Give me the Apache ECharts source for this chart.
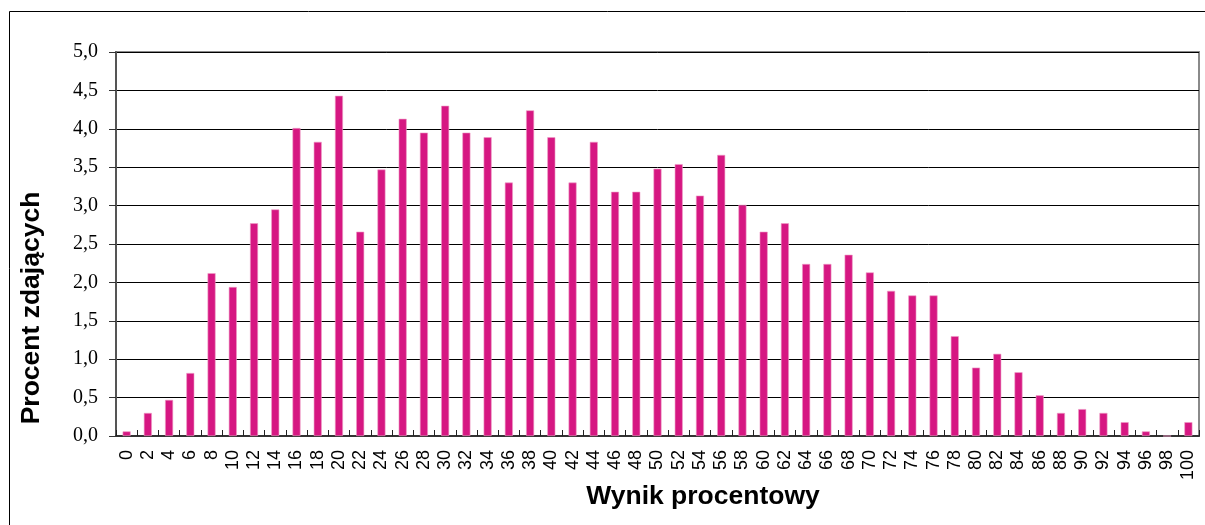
<!DOCTYPE html>
<html>
<head>
<meta charset="utf-8">
<script src="https://cdn.jsdelivr.net/npm/echarts@6/dist/echarts.min.js"></script>
<style>
  html, body { margin: 0; padding: 0; background: #fff; }
  #chart { width: 1205px; height: 525px; }
</style>
</head>
<body>
<div id="chart"></div>
<script>
// wynik procentowy 0..100 co 2
var categories = [];
for (var k = 0; k <= 100; k += 2) categories.push(String(k));

// procent zdających
var values = [
  0.06, 0.30, 0.47, 0.82, 2.12, 1.94, 2.77, 2.95, 4.01, 3.83,
  4.43, 2.66, 3.47, 4.13, 3.95, 4.30, 3.95, 3.89, 3.30, 4.24,
  3.89, 3.30, 3.83, 3.18, 3.18, 3.48, 3.54, 3.13, 3.66, 3.01,
  2.66, 2.77, 2.24, 2.24, 2.36, 2.13, 1.89, 1.83, 1.83, 1.30,
  0.89, 1.07, 0.83, 0.53, 0.30, 0.35, 0.30, 0.18, 0.06, 0,
  0.18
];

var xTitle = 'Wynik procentowy';
var yTitle = 'Procent zdających';

var chart = echarts.init(document.getElementById('chart'));

chart.setOption({
  animation: false,
  backgroundColor: '#fff',
  grid: {
    left: 116, top: 52, right: 6, bottom: 89,
    show: true,
    borderColor: '#8a8a8a',
    borderWidth: 2,
    containLabel: false
  },
  graphic: [
    {
      type: 'rect',
      shape: { x: 9.5, y: 11.5, width: 1210, height: 530 },
      style: { fill: 'none', stroke: '#000', lineWidth: 1 },
      z: 0
    },
    {
      type: 'text',
      x: 703, y: 497,
      style: {
        text: xTitle,
        font: 'bold 26.5px "Liberation Sans", Arial, sans-serif',
        fill: '#000',
        textAlign: 'center',
        textVerticalAlign: 'middle'
      }
    },
    {
      type: 'text',
      x: 32, y: 308,
      rotation: Math.PI / 2,
      style: {
        text: yTitle,
        font: 'bold 26.5px "Liberation Sans", Arial, sans-serif',
        fill: '#000',
        textAlign: 'center',
        textVerticalAlign: 'middle'
      }
    }
  ],
  xAxis: {
    type: 'category',
    data: categories,
    boundaryGap: true,
    axisLine: { lineStyle: { color: '#333', width: 2 } },
    axisTick: { show: true, inside: true, length: 6, interval: 0, lineStyle: { color: '#222', width: 1 } },
    axisLabel: {
      interval: 0,
      rotate: 90,
      margin: 14,
      color: '#000',
      fontSize: 18,
      fontFamily: '"Liberation Sans", Arial, sans-serif'
    },
    splitLine: { show: false }
  },
  yAxis: {
    type: 'value',
    min: 0, max: 5, interval: 0.5,
    axisLine: { show: true, lineStyle: { color: '#555', width: 2 } },
    axisTick: { show: true, length: 7, lineStyle: { color: '#333', width: 1 } },
    axisLabel: {
      margin: 18,
      color: '#000',
      fontSize: 20,
      fontFamily: '"Liberation Serif", "Times New Roman", serif',
      formatter: function (v) { return v.toFixed(1).replace('.', ','); }
    },
    splitLine: { show: true, lineStyle: { color: '#000', width: 1 } }
  },
  series: [{
    type: 'bar',
    data: values,
    barWidth: 8,
    itemStyle: { color: '#D61782', borderColor: '#ee9cc6', borderWidth: 0.6 }
  }]
});
</script>
</body>
</html>
